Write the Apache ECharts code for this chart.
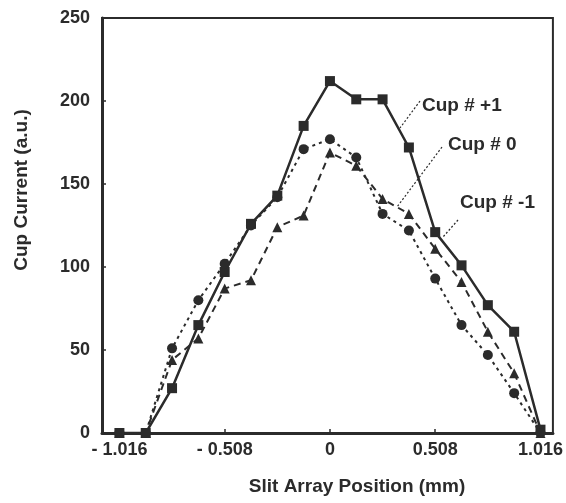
<!DOCTYPE html>
<html>
<head>
<meta charset="utf-8">
<script src="https://cdn.jsdelivr.net/npm/echarts@6/dist/echarts.min.js"></script>
<style>
  html, body { margin: 0; padding: 0; background: #fff; }
  #chart { width: 566px; height: 503px; }
</style>
</head>
<body>
<div id="chart"></div>
<script>
// slit positions (mm), step 0.127
var positions = [-1.016, -0.889, -0.762, -0.635, -0.508, -0.381, -0.254, -0.127, 0,
                 0.127, 0.254, 0.381, 0.508, 0.635, 0.762, 0.889, 1.016]
var cupPlus1 = [0, 0, 27, 65, 97, 126, 143, 185, 212, 201, 201, 172, 121, 101, 77, 61, 2]
var cupZero = [0, 0, 44, 57, 87, 92, 124, 131, 169, 161, 141, 132, 111, 91, 61, 36, 0]
var cupMinus1 = [0, 0, 51, 80, 102, 125, 142, 171, 177, 166, 132, 122, 93, 65, 47, 24, 0]
var xTicks = [-1.016, -0.508, 0, 0.508, 1.016]

var ink = '#2b2b2b'
var font = 'Liberation Sans, Arial, sans-serif'

function pairs(vals) {
  return positions.map(function (x, i) { return [x, vals[i]] })
}

var chart = echarts.init(document.getElementById('chart'))

function leader(x1, y1, x2, y2) {
  return {
    type: 'line', z: 10,
    shape: { x1: x1, y1: y1, x2: x2, y2: y2 },
    style: { stroke: ink, lineWidth: 1.2, lineDash: [2, 2] }
  }
}
function note(text, x, y) {
  return {
    type: 'text', z: 10, x: x, y: y,
    style: { text: text, fill: ink, font: 'bold 19px ' + font, textVerticalAlign: 'middle' }
  }
}

chart.setOption({
  animation: false,
  backgroundColor: '#fff',
  grid: {
    left: 102, right: 13, top: 18, bottom: 70,
    show: true, borderColor: ink, borderWidth: 2
  },
  xAxis: {
    type: 'value',
    min: -1.10,
    max: 1.076,
    splitLine: { show: false },
    axisLine: { onZero: false, lineStyle: { color: ink, width: 3 } },
    axisTick: { inside: true, length: 4, customValues: xTicks, lineStyle: { color: ink, width: 1.5 } },
    axisLabel: {
      customValues: xTicks,
      color: ink, fontSize: 18, fontWeight: 'bold', fontFamily: font, margin: 8,
      formatter: function (v) {
        if (v === 0) return '0'
        return v < 0 ? '- ' + Math.abs(v).toFixed(3) : v.toFixed(3)
      }
    }
  },
  yAxis: {
    type: 'value',
    min: 0,
    max: 250,
    interval: 50,
    splitLine: { show: false },
    axisLine: { onZero: false, lineStyle: { color: ink, width: 3 } },
    axisTick: { inside: true, length: 4, lineStyle: { color: ink, width: 1.5 } },
    axisLabel: { color: ink, fontSize: 18, fontWeight: 'bold', fontFamily: font, margin: 12 }
  },
  series: [
    {
      name: 'Cup # +1', type: 'line', data: pairs(cupPlus1),
      symbol: 'rect', symbolSize: 10,
      lineStyle: { color: ink, width: 2.5 },
      itemStyle: { color: ink }
    },
    {
      name: 'Cup # 0', type: 'line', data: pairs(cupZero),
      symbol: 'triangle', symbolSize: 10,
      lineStyle: { color: ink, width: 2, type: [7, 5] },
      itemStyle: { color: ink }
    },
    {
      name: 'Cup # -1', type: 'line', data: pairs(cupMinus1),
      symbol: 'circle', symbolSize: 10,
      lineStyle: { color: ink, width: 2, type: [3, 4] },
      itemStyle: { color: ink }
    }
  ],
  graphic: [
    {
      type: 'text', x: 22, y: 190, rotation: Math.PI / 2,
      style: { text: 'Cup Current (a.u.)', fill: ink, font: 'bold 19px ' + font,
               textAlign: 'center', textVerticalAlign: 'middle' }
    },
    {
      type: 'text', x: 357, y: 487,
      style: { text: 'Slit Array Position (mm)', fill: ink, font: 'bold 19px ' + font,
               textAlign: 'center', textVerticalAlign: 'middle' }
    },
    leader(420, 101, 400, 128),
    note('Cup # +1', 422, 106),
    leader(442, 147, 397, 207),
    note('Cup # 0', 448, 145),
    leader(458, 220, 443, 237),
    note('Cup # -1', 460, 203)
  ]
})
</script>
</body>
</html>
